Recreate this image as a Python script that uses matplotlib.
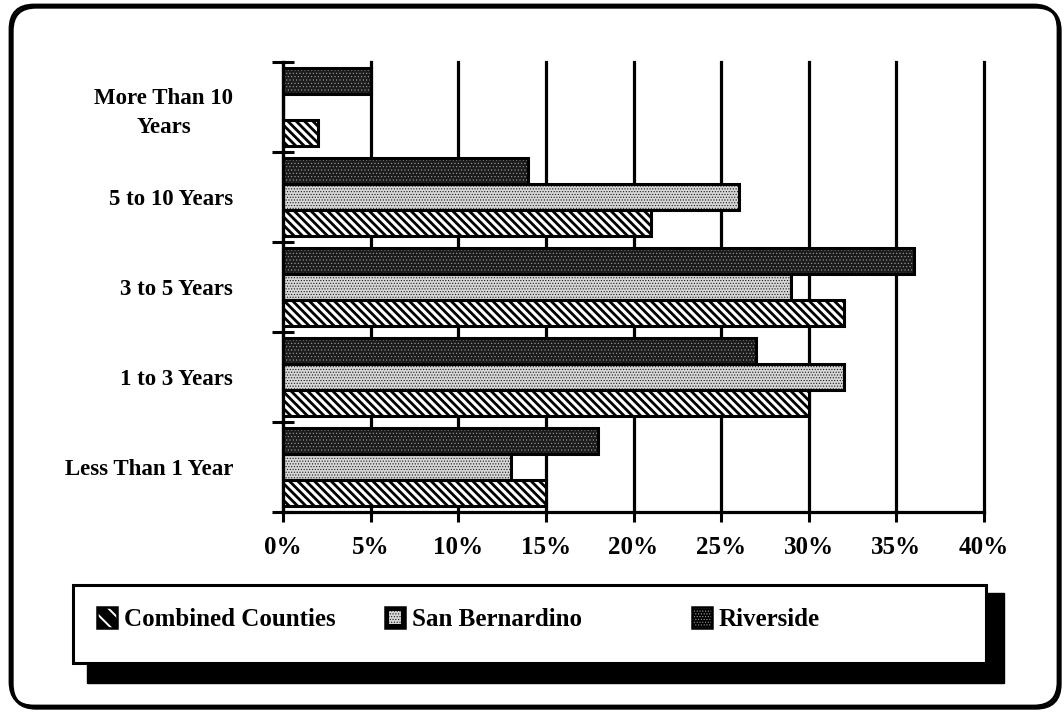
import numpy as np
import matplotlib
matplotlib.use("Agg")
import matplotlib.pyplot as plt
from matplotlib.patches import FancyBboxPatch, Rectangle, Patch

# ---- data -------------------------------------------------------------
categories = ["Less Than 1 Year", "1 to 3 Years", "3 to 5 Years",
              "5 to 10 Years", "More Than 10\nYears"]
series_names = ["Combined Counties", "San Bernardino", "Riverside"]
combined_counties = [15, 30, 32, 21, 2]
san_bernardino = [13, 32, 29, 26, 0]
riverside = [18, 27, 36, 14, 5]
x_ticks = [0, 5, 10, 15, 20, 25, 30, 35, 40]
x_tick_labels = [f"{v}%" for v in x_ticks]

series_values = [combined_counties, san_bernardino, riverside]

# fill styles: (face colour, hatch, hatch colour, hatch linewidth)
styles = [
    ("white", "\\\\\\\\", "black", 2.0),
    ("#d6d6d6", "......", "#1a1a1a", 0.5),
    ("#1c1c1c", ".....", "#a0a0a0", 0.4),
]

plt.rcParams["font.family"] = ["Liberation Serif", "DejaVu Serif"]
plt.rcParams["font.weight"] = "bold"
plt.rcParams["hatch.linewidth"] = 2.0
HAS_HLW = hasattr(Patch, "set_hatch_linewidth")

W, H = 1064, 716
fig = plt.figure(figsize=(W / 100, H / 100), dpi=100)
fig.patch.set_facecolor("white")

# pixel-space canvas for the frame and the legend
canvas = fig.add_axes([0, 0, 1, 1], zorder=0)
canvas.set_xlim(0, W)
canvas.set_ylim(H, 0)
canvas.axis("off")

# rounded outer frame with a slight drop shadow on the bottom/right
canvas.add_patch(FancyBboxPatch((12, 7), 1048, 701,
                                boxstyle="round,pad=0,rounding_size=24",
                                fc="none", ec="black", lw=2.4))
canvas.add_patch(FancyBboxPatch((10, 5), 1048, 701,
                                boxstyle="round,pad=0,rounding_size=24",
                                fc="none", ec="black", lw=2.0))

# ---- bar chart --------------------------------------------------------
ax = fig.add_axes([283 / W, 1 - 512 / H, 701 / W, 450 / H], zorder=1)
ax.patch.set_alpha(0)

ypos = np.arange(len(categories))
bar_h = 0.29
offsets = [-bar_h, 0.0, bar_h]

for vals, off, (face, hatch, hcol, hlw) in zip(series_values, offsets, styles):
    pos = ypos + off
    ax.barh(pos, vals, height=bar_h, color=face, edgecolor="none", zorder=2)
    hb = ax.barh(pos, vals, height=bar_h, color="none", edgecolor=hcol,
                 hatch=hatch, lw=0, zorder=3)
    if HAS_HLW:
        for p in hb:
            p.set_hatch_linewidth(hlw)
    ax.barh(pos, vals, height=bar_h, color="none", edgecolor="black",
            lw=2.2, zorder=4)

ax.set_xlim(0, 40)
ax.set_ylim(-0.5, len(categories) - 0.5)

ax.set_xticks(x_ticks)
ax.set_xticklabels(x_tick_labels, fontsize=18, fontweight="bold")
ax.tick_params(axis="x", direction="out", length=7, width=2.2, pad=10)

ax.set_yticks(np.arange(-0.5, len(categories), 1.0))
ax.set_yticklabels([])
ax.tick_params(axis="y", which="major", direction="inout", length=16, width=2.2)
ax.set_yticks(ypos, minor=True)
ax.set_yticklabels(categories, minor=True, fontsize=16.5, fontweight="bold",
                   multialignment="center", linespacing=1.45)
ax.tick_params(axis="y", which="minor", length=0, pad=36)

ax.xaxis.grid(True, color="black", lw=2.3)
ax.set_axisbelow(True)
for gl in ax.get_xgridlines():
    gl.set_clip_on(False)

for s in ("top", "right"):
    ax.spines[s].set_visible(False)
for s in ("left", "bottom"):
    ax.spines[s].set_linewidth(2.3)
    ax.spines[s].set_zorder(5)

# ---- legend box with block shadow --------------------------------------
canvas.add_patch(Rectangle((87, 593), 917, 90, fc="black", ec="black", lw=1))
canvas.add_patch(Rectangle((73, 585), 913, 78, fc="white", ec="black", lw=2.2))

legend_x = [97, 385, 692]
key_styles = [
    ("black", "\\\\", "white", 1.4),
    ("black", "", "none", 0.0),
    ("black", "......", "#9a9a9a", 0.5),
]
for name, lx, (kface, khatch, khcol, khlw), idx in zip(series_names, legend_x,
                                                        key_styles, range(3)):
    canvas.add_patch(Rectangle((lx, 607), 20, 21, fc=kface, ec="none", zorder=3))
    if idx == 1:
        # light checkered inset
        canvas.add_patch(Rectangle((lx + 4, 611), 12, 13, fc="#d6d6d6",
                                   ec="none", zorder=4))
        inner = Rectangle((lx + 4, 611), 12, 13, fc="none", ec="#1a1a1a",
                          hatch="......", lw=0, zorder=4)
        if HAS_HLW:
            inner.set_hatch_linewidth(0.5)
        canvas.add_patch(inner)
    else:
        kp = Rectangle((lx, 607), 20, 21, fc="none", ec=khcol,
                       hatch=khatch, lw=0, zorder=4)
        if HAS_HLW:
            kp.set_hatch_linewidth(khlw)
        canvas.add_patch(kp)
    canvas.add_patch(Rectangle((lx, 607), 20, 21, fc="none", ec="black",
                               lw=1.8, zorder=5))
    canvas.text(lx + 27, 619, name, fontsize=18, fontweight="bold",
                ha="left", va="center", zorder=5)

fig.savefig("out.png", dpi=100, facecolor="white")
